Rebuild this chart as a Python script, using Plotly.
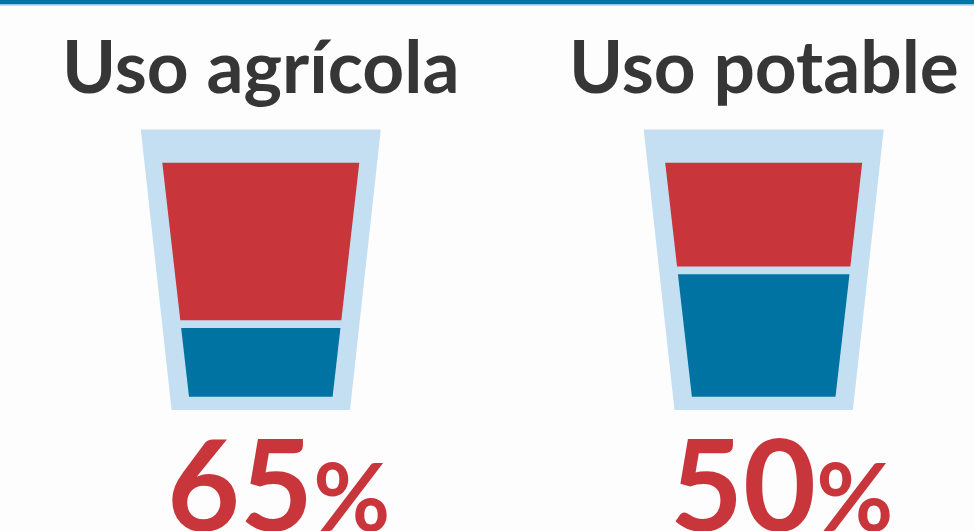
import plotly.graph_objects as go

# ---- data ----
categories = ["Uso agrícola", "Uso potable"]
percent_labels = [65, 50]          # value printed under each glass
red_fill_share = [69, 46]          # share (%) of the glass interior drawn in red

# ---- geometry / style (pixel space) ----
W, H = 974, 531
centers = [260.8, 763.7]
outer_top, outer_bot = 129.5, 410.0
outer_half_top, outer_half_bot = 120.0, 89.2
inner_top, inner_bot = 162.7, 396.7
inner_half_top, inner_half_bot = 98.5, 71.8
gap = 7.7

GLASS = "#c4dff1"
RED = "#c8363b"
BLUE = "#0073a3"
TEXT = "#363636"


def half_w(y):
    t = (y - inner_top) / (inner_bot - inner_top)
    return inner_half_top + t * (inner_half_bot - inner_half_top)


def trap(cx, y0, y1, h0, h1):
    xs = [cx - h0, cx + h0, cx + h1, cx - h1, cx - h0]
    ys = [y0, y0, y1, y1, y0]
    return xs, ys


fig = go.Figure()
for cx, share in zip(centers, red_fill_share):
    xs, ys = trap(cx, outer_top, outer_bot, outer_half_top, outer_half_bot)
    fig.add_trace(go.Scatter(x=xs, y=ys, fill="toself", fillcolor=GLASS, mode="lines",
                             line=dict(width=0), hoverinfo="skip"))
    split = inner_top + share / 100 * (inner_bot - inner_top)
    y_red_bot = split - gap / 2
    y_blue_top = split + gap / 2
    xs, ys = trap(cx, inner_top, y_red_bot, half_w(inner_top), half_w(y_red_bot))
    fig.add_trace(go.Scatter(x=xs, y=ys, fill="toself", fillcolor=RED, mode="lines",
                             line=dict(width=0), hoverinfo="skip"))
    xs, ys = trap(cx, y_blue_top, inner_bot, half_w(y_blue_top), half_w(inner_bot))
    fig.add_trace(go.Scatter(x=xs, y=ys, fill="toself", fillcolor=BLUE, mode="lines",
                             line=dict(width=0), hoverinfo="skip"))

annotations = []
for cx, name, pct in zip(centers, categories, percent_labels):
    annotations.append(dict(x=cx, y=65, xref="x", yref="y", text=name, showarrow=False,
                            xanchor="center", yanchor="middle",
                            font=dict(family="Lato", size=73, color=TEXT, weight="bold")))
    annotations.append(dict(x=cx + 18, y=482, xref="x", yref="y",
                            text=f"{pct}<span style='font-size:94px'>%</span>",
                            showarrow=False, xanchor="center", yanchor="middle",
                            font=dict(family="Lato", size=126, color=RED, weight="bold")))

shapes = [
    dict(type="rect", xref="paper", yref="y", x0=0, x1=1, y0=0, y1=4.2,
         fillcolor="#0076a6", line=dict(width=0), layer="above"),
    dict(type="rect", xref="paper", yref="y", x0=0, x1=1, y0=4.2, y1=5.6,
         fillcolor="#86c2e2", line=dict(width=0), layer="above"),
]

fig.update_layout(
    width=W, height=H, margin=dict(l=0, r=0, t=0, b=0),
    paper_bgcolor="#fdfdfd", plot_bgcolor="#fdfdfd",
    showlegend=False,
    xaxis=dict(range=[0, W], visible=False, fixedrange=True),
    yaxis=dict(range=[H, 0], visible=False, fixedrange=True),
    annotations=annotations, shapes=shapes,
)

fig.write_html("out.html", config={"displayModeBar": False},
               post_script="document.body.style.margin='0';document.body.style.background='#fdfdfd';")
